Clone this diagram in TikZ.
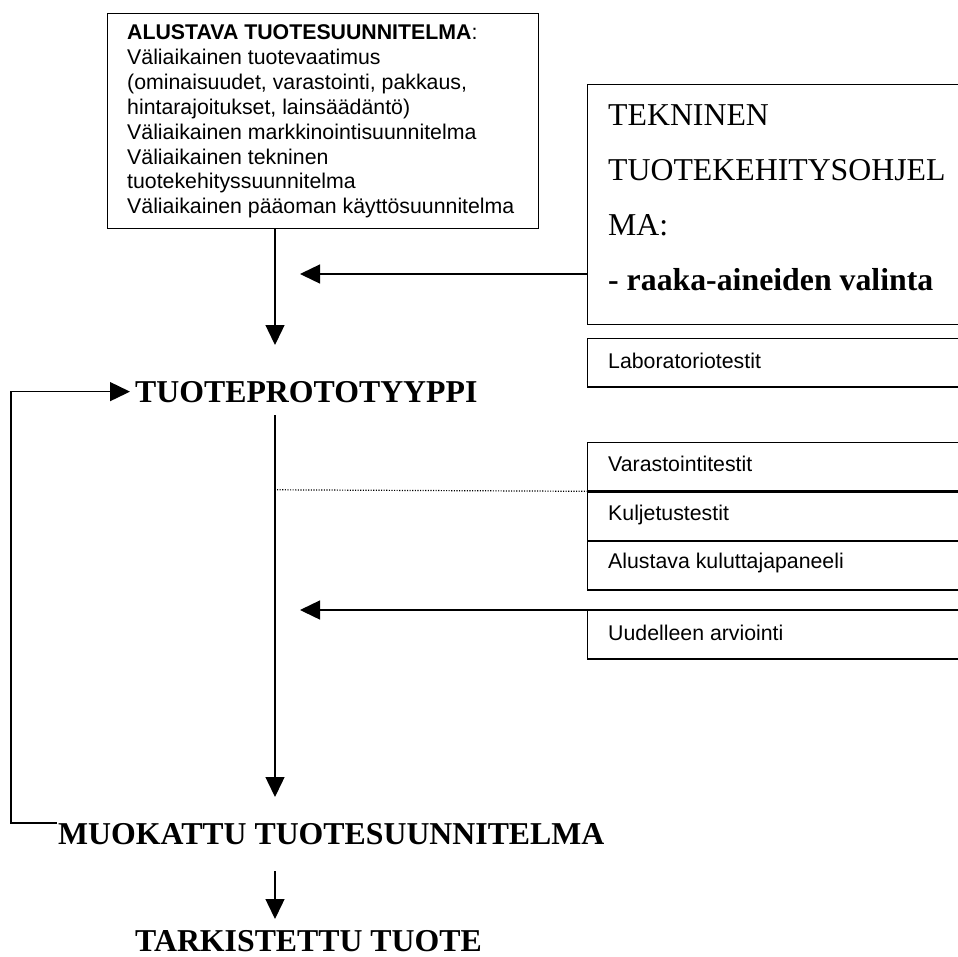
\documentclass[tikz,border=0pt]{standalone}
\usepackage{fontspec}
\setmainfont{Liberation Serif}
\newfontfamily\arial{Liberation Sans}
\usetikzlibrary{arrows.meta}
\tikzset{
  box/.style={draw, line width=1.4pt, rectangle, inner sep=0pt, anchor=north west},
  testbox/.style={box, minimum width=400pt, minimum height=48.2pt},
  small/.style={font=\arial\fontsize{21.3}{24.9}\selectfont, inner sep=0pt},
  big/.style={font=\bfseries\fontsize{31.8}{38}\selectfont, inner sep=0pt},
  arr/.style={line width=1.4pt, -{Triangle[length=20pt,width=19pt]}},
}
\begin{document}
\begin{tikzpicture}[x=1pt,y=-1pt]
\clip (0,0) rectangle (958,956);
\fill[white] (0,0) rectangle (958,956);

% preliminary product plan
\node[box, minimum width=431pt, minimum height=215pt] (plan) at (107,13) {};
\node[small, anchor=north west, align=left] (plantext) at (127,24.5)
  {\textbf{ALUSTAVA TUOTESUUNNITELMA}:\\
   Väliaikainen tuotevaatimus\\
   (ominaisuudet, varastointi, pakkaus,\\
   hintarajoitukset, lainsäädäntö)\\
   Väliaikainen markkinointisuunnitelma\\
   Väliaikainen tekninen\\
   tuotekehityssuunnitelma\\
   Väliaikainen pääoman käyttösuunnitelma};

% technical development programme
\node[box, minimum width=400pt, minimum height=240pt] (tekn) at (586.7,84) {};
\node[anchor=north west, align=left, inner sep=0pt,
      font=\fontsize{31.8}{55}\selectfont] (tekntext) at (608,104)
  {TEKNINEN\\ TUOTEKEHITYSOHJEL\\ MA:\\ \textbf{- raaka-aineiden valinta}};

% test boxes on the right
\node[testbox] (lab) at (586.7,338) {};
\node[small, anchor=base west] (labtext) at (608,368) {Laboratoriotestit};
\node[testbox] (vars) at (586.7,441.7) {};
\node[small, anchor=base west] (varstext) at (608,471.7) {Varastointitestit};
\node[testbox] (kulj) at (vars.south west) {};
\node[small, anchor=base west] (kuljtext) at (608,520) {Kuljetustestit};
\node[testbox] (pane) at (kulj.south west) {};
\node[small, anchor=base west] (panetext) at (608,568) {Alustava kuluttajapaneeli};
\node[testbox] (uud) at (586.7,610) {};
\node[small, anchor=base west] (uudtext) at (608,640) {Uudelleen arviointi};

% main flow labels
\node[big, anchor=base west, inner xsep=5pt] (proto) at (130,402) {TUOTEPROTOTYYPPI};
\node[big, anchor=base west] (muok) at (58,844) {MUOKATTU TUOTESUUNNITELMA};
\node[big, anchor=base west] (tark) at (135,951) {TARKISTETTU TUOTE};

% free ends of the connectors
\coordinate (tipA) at (275,345);
\coordinate (tipB) at (300,274);
\coordinate (mainstart) at (275,415);
\coordinate (tipC) at (275,797);
\coordinate (edge) at (960,610);
\coordinate (tipD) at (300,610);
\coordinate (loopstart) at (57,823);
\coordinate (loopcorner) at (11,823);
\coordinate (dotstart) at (277,489.8);
\coordinate (startE) at (275,871);
\coordinate (tipE) at (275,919);

% connectors
\draw[arr] (plan.south -| tipA) -- (tipA);
\draw[arr] (tekn.west |- tipB) -- (tipB);
\draw[arr] (mainstart) -- (tipC);
\draw[arr] (edge) -- (tipD);
\draw[arr] (loopstart) -- (loopcorner) |- (proto.west);
\draw[line width=1.2pt, dash pattern=on 1.1pt off 1.5pt] (dotstart) -- (vars.south west);
\draw[arr] (startE) -- (tipE);
\end{tikzpicture}
\end{document}
